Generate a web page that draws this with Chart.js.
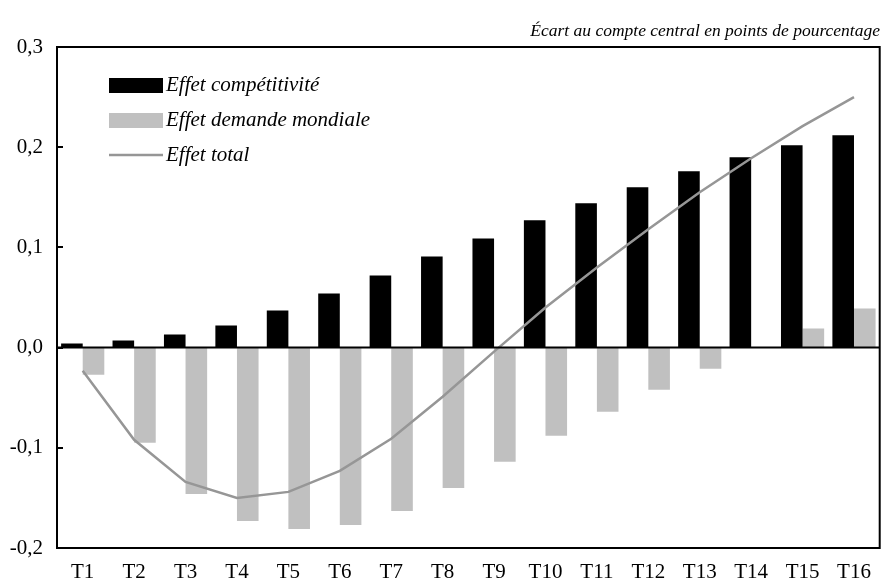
<!DOCTYPE html>
<html>
<head>
<meta charset="utf-8">
<script src="https://cdn.jsdelivr.net/npm/chart.js@4/dist/chart.umd.min.js"></script>
<style>
  html, body { margin: 0; padding: 0; background: #fff; }
  #wrap { width: 883px; height: 583px; }
</style>
</head>
<body>
<div id="wrap"><canvas id="chart" width="883" height="583"></canvas></div>
<script>
const quarters = ["T1", "T2", "T3", "T4", "T5", "T6", "T7", "T8", "T9", "T10", "T11", "T12", "T13", "T14", "T15", "T16"];
const competitivite = [0.004, 0.007, 0.013, 0.022, 0.037, 0.054, 0.072, 0.091, 0.109, 0.127, 0.144, 0.160, 0.176, 0.190, 0.202, 0.212];
const demandeMondiale = [-0.027, -0.095, -0.146, -0.173, -0.181, -0.177, -0.163, -0.140, -0.114, -0.088, -0.064, -0.042, -0.021, 0.000, 0.019, 0.039];
const effetTotal = [-0.023, -0.092, -0.134, -0.150, -0.144, -0.123, -0.091, -0.049, -0.004, 0.040, 0.080, 0.118, 0.155, 0.189, 0.221, 0.250];
const yTicks = [-0.2, -0.1, 0, 0.1, 0.2, 0.3];

const serif = "'Liberation Serif', 'DejaVu Serif', serif";

function fmt(v) {
  return v.toFixed(1).replace(".", ",");
}

// frame, zero line, inward ticks and the legend inside the plot
const framePlugin = {
  id: "frame",
  afterDatasetsDraw(chart) {
    const ctx = chart.ctx;
    const a = chart.chartArea;
    const y = chart.scales.y;
    ctx.save();
    ctx.strokeStyle = "#000";
    ctx.lineWidth = 2;
    ctx.strokeRect(a.left, a.top, a.right - a.left, a.bottom - a.top);
    const y0 = y.getPixelForValue(0);
    ctx.beginPath();
    ctx.moveTo(a.left, y0);
    ctx.lineTo(a.right, y0);
    ctx.stroke();
    yTicks.forEach((t) => {
      const py = Math.round(y.getPixelForValue(t));
      ctx.beginPath();
      ctx.moveTo(a.left, py);
      ctx.lineTo(a.left + 6, py);
      ctx.stroke();
    });

    const rows = [85, 120, 155];
    ctx.font = "italic 21px " + serif;
    ctx.textBaseline = "middle";
    ctx.fillStyle = "#000";
    chart.data.datasets.forEach((ds, i) => {
      const ry = rows[i];
      if (ds.type === "line") {
        ctx.strokeStyle = ds.borderColor;
        ctx.lineWidth = 2.5;
        ctx.beginPath();
        ctx.moveTo(109, ry);
        ctx.lineTo(163, ry);
        ctx.stroke();
      } else {
        ctx.fillStyle = ds.backgroundColor;
        ctx.fillRect(109, ry - 7, 54, 15);
      }
      ctx.fillStyle = "#000";
      ctx.fillText(ds.label, 166, ry);
    });
    ctx.restore();
  },
};

new Chart(document.getElementById("chart"), {
  data: {
    labels: quarters,
    datasets: [
      {
        type: "bar",
        label: "Effet compétitivité",
        data: competitivite,
        backgroundColor: "#000000",
        categoryPercentage: 0.84,
        barPercentage: 1.0,
        order: 2,
      },
      {
        type: "bar",
        label: "Effet demande mondiale",
        data: demandeMondiale,
        backgroundColor: "#c0c0c0",
        categoryPercentage: 0.84,
        barPercentage: 1.0,
        order: 2,
      },
      {
        type: "line",
        label: "Effet total",
        data: effetTotal,
        borderColor: "#969696",
        borderWidth: 2.5,
        pointRadius: 0,
        tension: 0,
        fill: false,
        order: 1,
      },
    ],
  },
  options: {
    responsive: false,
    animation: false,
    layout: { padding: { left: 0, right: 3, top: 0, bottom: 0 } },
    plugins: {
      legend: { display: false },
      tooltip: { enabled: false },
      title: {
        display: true,
        text: "Écart au compte central en points de pourcentage",
        align: "end",
        color: "#000",
        font: { family: serif, size: 17.5, style: "italic", weight: "normal" },
        padding: { top: 21, bottom: 5 },
      },
    },
    scales: {
      x: {
        grid: { display: false, drawTicks: false },
        border: { display: false },
        afterFit(scale) {
          scale.height = 35;
        },
        ticks: {
          color: "#000",
          font: { family: serif, size: 21 },
          padding: 12,
          maxRotation: 0,
          autoSkip: false,
        },
      },
      y: {
        min: -0.2,
        max: 0.3,
        grid: { display: false, drawTicks: false },
        border: { display: false },
        afterBuildTicks(scale) {
          scale.ticks = yTicks.map((v) => ({ value: v }));
        },
        afterFit(scale) {
          scale.width = 57;
        },
        ticks: {
          color: "#000",
          font: { family: serif, size: 21 },
          padding: 14,
          callback: (v) => fmt(v),
        },
      },
    },
  },
  plugins: [framePlugin],
});
</script>
</body>
</html>
